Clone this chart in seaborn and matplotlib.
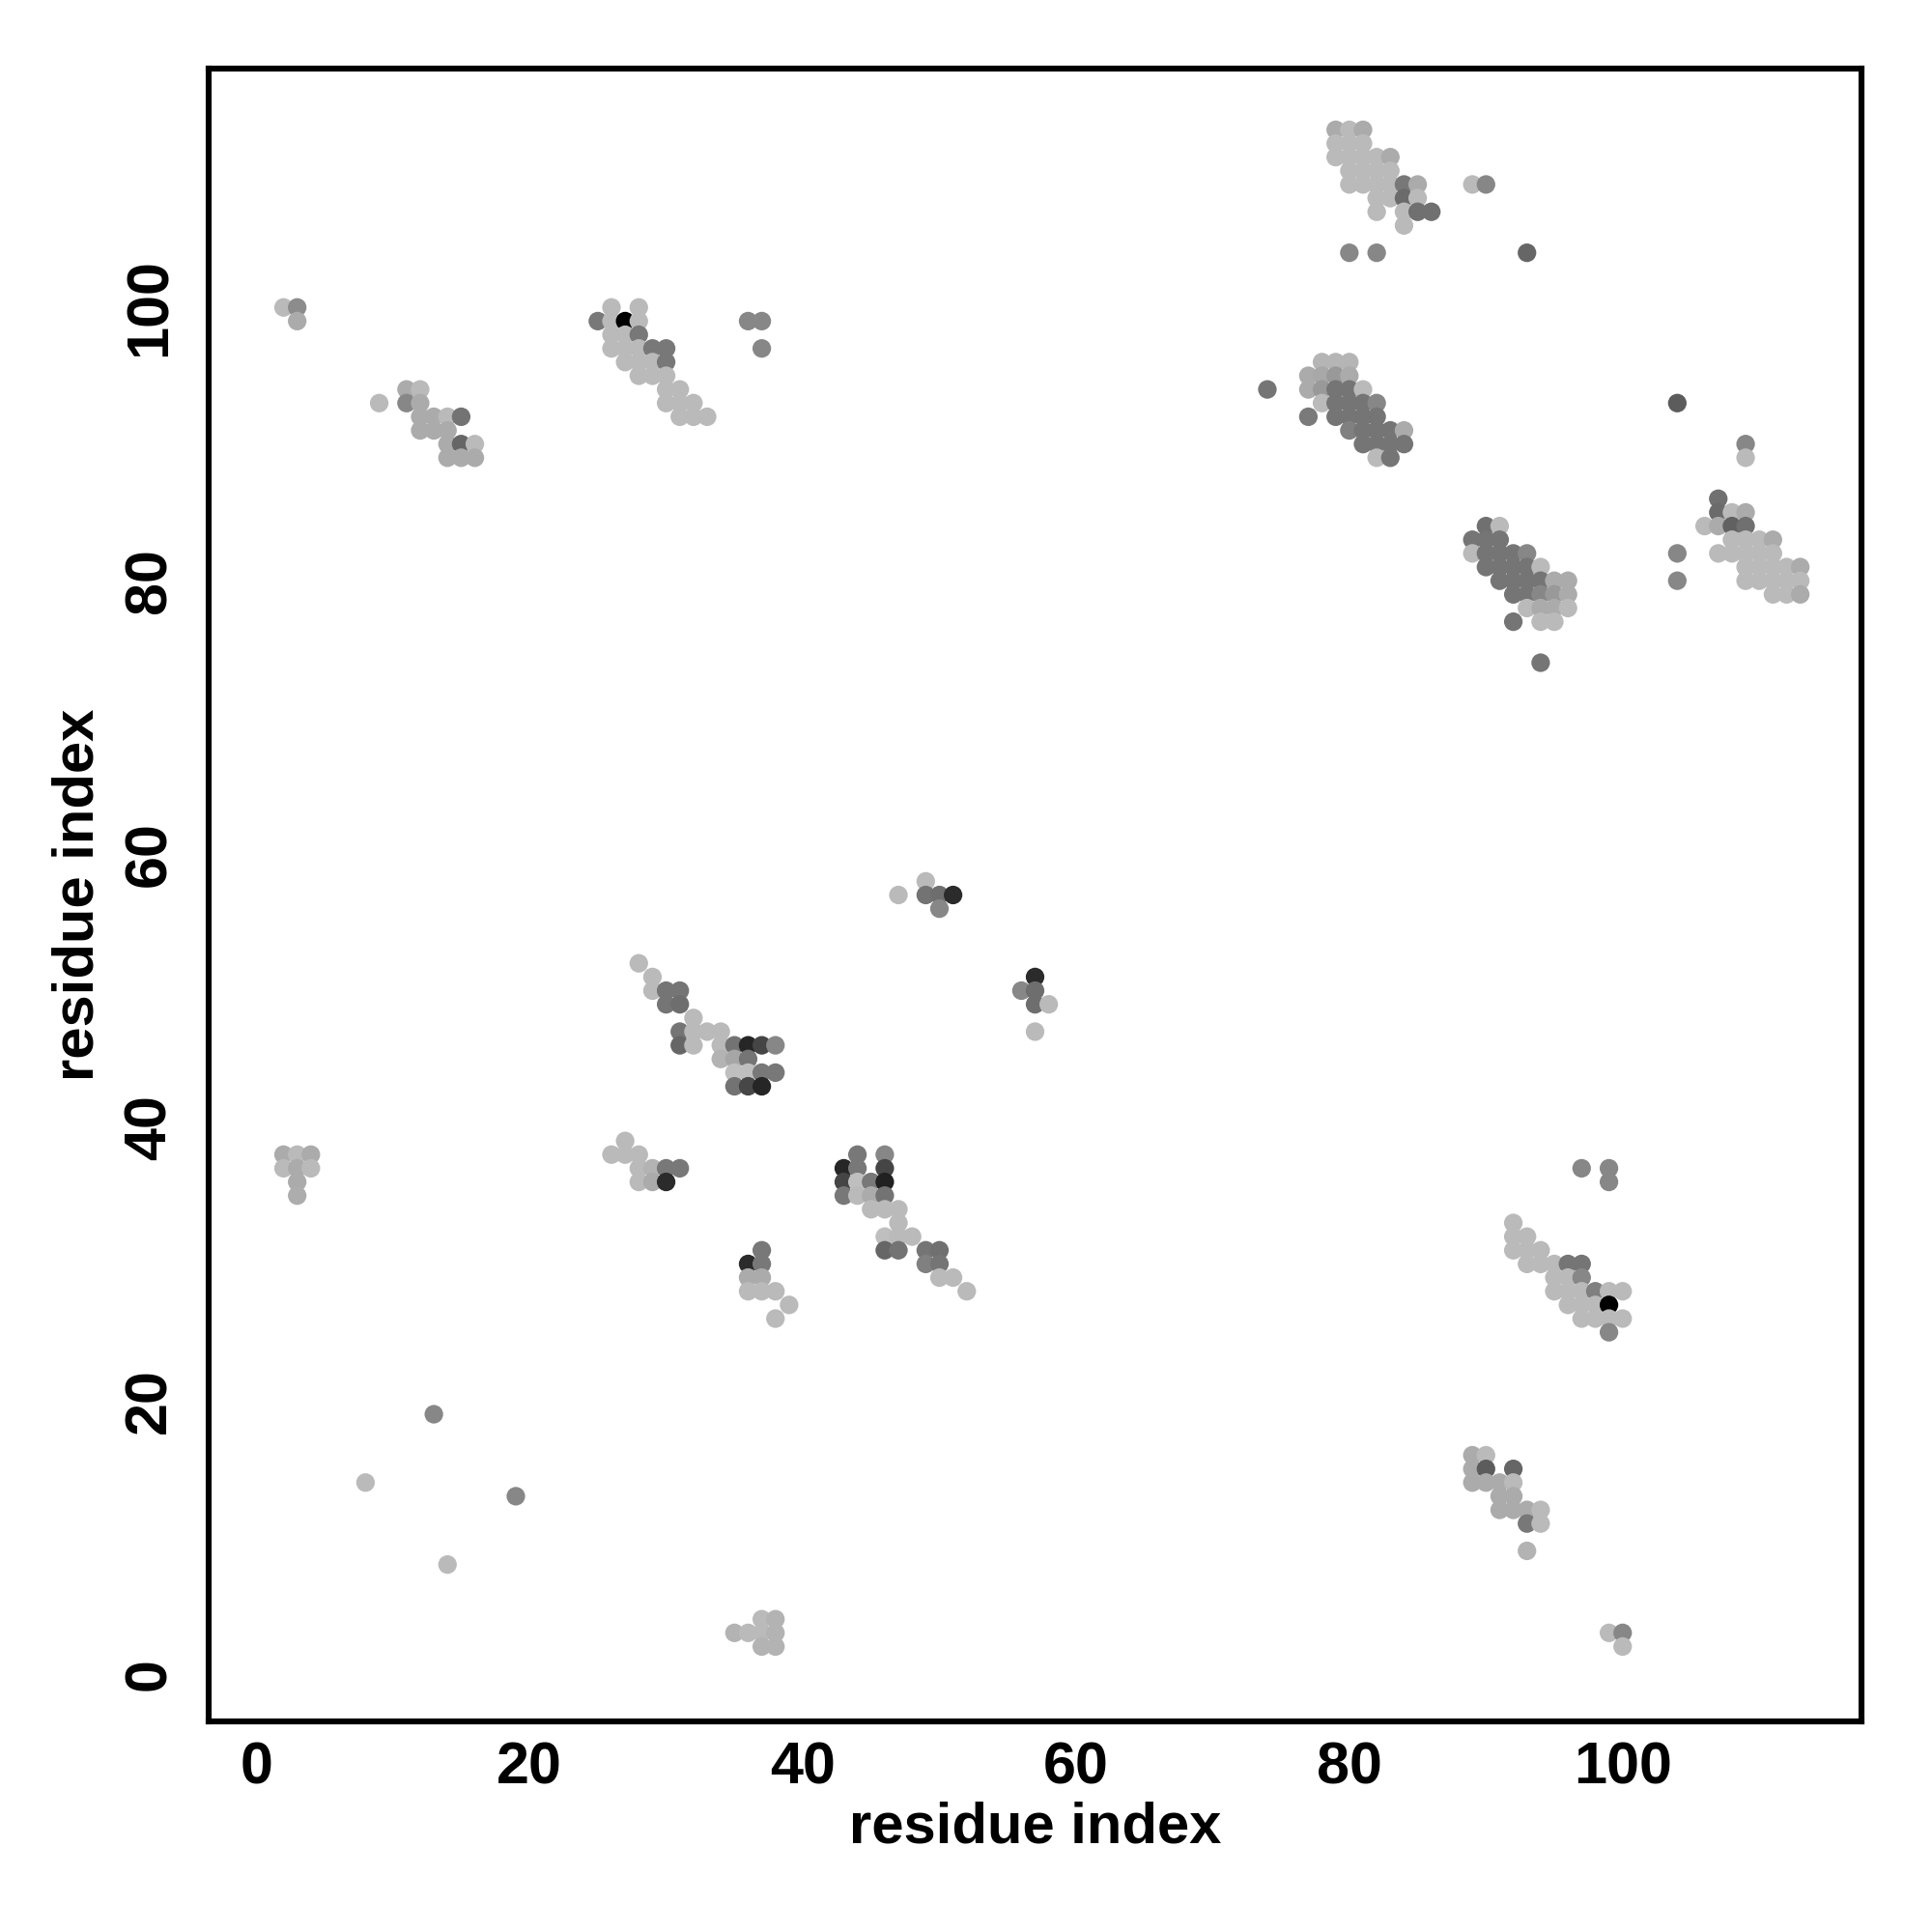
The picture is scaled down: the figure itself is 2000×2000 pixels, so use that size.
"""Residue contact map: contacting residue pairs, shaded by contact strength."""

import pandas as pd
import seaborn as sns
import matplotlib.pyplot as plt

# (residue i, residue j, gray shade 0=black .. 1=white)
top_right = [
    (79, 113, .67), (80, 113, .73), (81, 113, .67),
    (79, 112, .73), (80, 112, .73), (81, 112, .73),
    (79, 111, .73), (80, 111, .73), (81, 111, .73), (82, 111, .73), (83, 111, .67),
    (80, 110, .73), (81, 110, .73), (82, 110, .73), (83, 110, .73),
    (80, 109, .73), (81, 109, .73), (82, 109, .73), (83, 109, .73), (84, 109, .47), (85, 109, .67),
    (82, 108, .73), (83, 108, .73), (84, 108, .42), (85, 108, .73),
    (82, 107, .73), (84, 107, .73), (85, 107, .44), (86, 107, .44),
    (84, 106, .73),
    (80, 104, .53), (82, 104, .53),
    (89, 109, .73), (90, 109, .53),
    (93, 104, .40),
]
helix_90s = [
    (78, 96, .71), (79, 96, .71), (80, 96, .71),
    (77, 95, .67), (78, 95, .66), (79, 95, .60), (80, 95, .67),
    (74, 94, .46), (77, 94, .67), (78, 94, .60), (79, 94, .46), (80, 94, .46), (81, 94, .73),
    (78, 93, .73), (79, 93, .46), (80, 93, .46), (81, 93, .46), (82, 93, .53),
    (77, 92, .48), (79, 92, .46), (80, 92, .46), (81, 92, .46), (82, 92, .46),
    (80, 91, .50), (81, 91, .46), (82, 91, .46), (83, 91, .46), (84, 91, .67),
    (81, 90, .46), (82, 90, .46), (83, 90, .46), (84, 90, .46),
    (82, 89, .73), (83, 89, .46),
]
helix_80s = [
    (90, 84, .44), (91, 84, .73),
    (89, 83, .46), (90, 83, .46), (91, 83, .46),
    (89, 82, .73), (90, 82, .46), (91, 82, .46), (92, 82, .46), (93, 82, .53),
    (90, 81, .46), (91, 81, .46), (92, 81, .46), (93, 81, .46), (94, 81, .73),
    (91, 80, .46), (92, 80, .46), (93, 80, .46), (94, 80, .46), (95, 80, .67), (96, 80, .67),
    (92, 79, .46), (93, 79, .46), (94, 79, .53), (95, 79, .60), (96, 79, .67),
    (93, 78, .73), (94, 78, .67), (95, 78, .67), (96, 78, .73),
    (92, 77, .46), (94, 77, .73), (95, 77, .73),
    (94, 74, .46),
]
far_right = [
    (104, 93, .36),
    (109, 90, .53), (109, 89, .73),
    (107, 86, .44),
    (107, 85, .42), (108, 85, .73), (109, 85, .67),
    (106, 84, .73), (107, 84, .67), (108, 84, .38), (109, 84, .44),
    (108, 83, .73), (109, 83, .73), (110, 83, .73), (111, 83, .67),
    (104, 82, .53), (107, 82, .73), (108, 82, .73), (109, 82, .73), (110, 82, .73), (111, 82, .73),
    (109, 81, .73), (110, 81, .73), (111, 81, .73), (112, 81, .73), (113, 81, .67),
    (104, 80, .53), (109, 80, .73), (110, 80, .73), (111, 80, .73), (112, 80, .73), (113, 80, .73),
    (111, 79, .73), (112, 79, .73), (113, 79, .67),
]
top_left = [
    (2, 100, .73), (3, 100, .55), (3, 99, .67),
    (11, 94, .67), (12, 94, .73),
    (9, 93, .73), (11, 93, .53), (12, 93, .67),
    (12, 92, .67), (13, 92, .67), (14, 92, .73), (15, 92, .45),
    (12, 91, .67), (13, 91, .67), (14, 91, .67),
    (14, 90, .67), (15, 90, .40), (16, 90, .73),
    (14, 89, .67), (15, 89, .67), (16, 89, .67),
]
strand_20s = [
    (26, 100, .73), (28, 100, .73),
    (25, 99, .47), (26, 99, .73), (27, 99, .0), (28, 99, .73),
    (26, 98, .73), (27, 98, .73), (28, 98, .47),
    (26, 97, .73), (27, 97, .73), (28, 97, .73), (29, 97, .47), (30, 97, .47),
    (27, 96, .73), (28, 96, .73), (29, 96, .73), (30, 96, .47),
    (28, 95, .73), (29, 95, .73), (30, 95, .73),
    (30, 94, .73), (31, 94, .73),
    (30, 93, .73), (31, 93, .73), (32, 93, .73),
    (31, 92, .73), (32, 92, .73), (33, 92, .73),
    (36, 99, .53), (37, 99, .53), (37, 97, .53),
]
middle = [
    (49, 58, .73), (47, 57, .73), (49, 57, .45), (50, 57, .43), (51, 57, .17), (50, 56, .53),
    (57, 51, .17), (56, 50, .53), (57, 50, .43), (57, 49, .43), (58, 49, .73), (57, 47, .73),
]
strand_40s = [
    (28, 52, .73), (29, 51, .73),
    (29, 50, .73), (30, 50, .46), (31, 50, .46),
    (30, 49, .46), (31, 49, .43),
    (32, 48, .73),
    (31, 47, .46), (32, 47, .73), (33, 47, .73), (34, 47, .73),
    (31, 46, .40), (32, 46, .73), (34, 46, .73), (35, 46, .45), (36, 46, .15), (37, 46, .27), (38, 46, .53),
    (34, 45, .70), (35, 45, .65), (36, 45, .46),
    (35, 44, .75), (36, 44, .75), (37, 44, .47), (38, 44, .47),
    (35, 43, .45), (36, 43, .28), (37, 43, .15),
]
row_37 = [
    (2, 38, .67), (3, 38, .73), (4, 38, .67),
    (2, 37, .73), (3, 37, .67), (4, 37, .73),
    (3, 36, .67), (3, 35, .68),
    (27, 39, .73), (26, 38, .73), (27, 38, .73), (28, 38, .73),
    (28, 37, .73), (29, 37, .70), (30, 37, .47), (31, 37, .47),
    (28, 36, .73), (29, 36, .67), (30, 36, .17),
]
strand_30s = [
    (44, 38, .47), (46, 38, .53),
    (43, 37, .15), (44, 37, .47), (46, 37, .27),
    (43, 36, .27), (44, 36, .75), (45, 36, .47), (46, 36, .13),
    (43, 35, .47), (44, 35, .73), (45, 35, .67), (46, 35, .45),
    (45, 34, .73), (46, 34, .73), (47, 34, .73),
    (47, 33, .73),
    (46, 32, .75), (47, 32, .73), (48, 32, .73),
    (46, 31, .40), (47, 31, .45), (49, 31, .46), (50, 31, .44),
    (49, 30, .50), (50, 30, .46),
    (50, 29, .73), (51, 29, .73),
    (52, 28, .73),
    (37, 31, .47), (36, 30, .17), (37, 30, .47),
    (36, 29, .67), (37, 29, .67),
    (36, 28, .73), (37, 28, .73), (38, 28, .73),
    (39, 27, .73), (38, 26, .73),
]
lower_right = [
    (97, 37, .53), (99, 37, .53), (99, 36, .53),
    (92, 33, .73), (92, 32, .73), (93, 32, .73),
    (92, 31, .73), (93, 31, .73), (94, 31, .73),
    (93, 30, .73), (94, 30, .73), (95, 30, .73), (96, 30, .46), (97, 30, .46),
    (95, 29, .73), (96, 29, .73), (97, 29, .53),
    (95, 28, .73), (96, 28, .73), (97, 28, .73), (98, 28, .50), (99, 28, .73), (100, 28, .73),
    (96, 27, .73), (97, 27, .73), (98, 27, .73), (99, 27, .0),
    (97, 26, .73), (98, 26, .73), (99, 26, .73), (100, 26, .73),
    (99, 25, .53),
    (89, 16, .67), (90, 16, .73),
    (89, 15, .67), (90, 15, .36), (92, 15, .40),
    (89, 14, .67), (90, 14, .67), (91, 14, .67), (92, 14, .73),
    (91, 13, .67), (92, 13, .67),
    (91, 12, .67), (92, 12, .67), (93, 12, .67), (94, 12, .73),
    (93, 11, .47), (94, 11, .73),
    (93, 9, .70),
]
sparse = [
    (13, 19, .53), (8, 14, .73), (19, 13, .53), (14, 8, .73),
    (35, 3, .70), (36, 3, .73), (37, 3, .73), (38, 3, .70),
    (37, 4, .73), (38, 4, .70), (37, 2, .70), (38, 2, .70),
    (99, 3, .73), (100, 3, .53), (100, 2, .73),
]

clusters = [top_right, helix_90s, helix_80s, far_right, top_left, strand_20s,
            middle, strand_40s, row_37, strand_30s, lower_right, sparse]
contacts = pd.DataFrame([p for c in clusters for p in c], columns=["i", "j", "shade"])

sns.set_style("white")
plt.rcParams["font.family"] = ["Liberation Sans", "DejaVu Sans"]
plt.rcParams["font.weight"] = "bold"

fig = plt.figure(figsize=(10, 10), dpi=200)
ax = fig.add_axes([0.108, 0.109, 0.8555, 0.8555])

palette = {v: str(v) for v in contacts["shade"].unique()}
sns.scatterplot(data=contacts, x="i", y="j", hue="shade", palette=palette,
                s=48, linewidth=0, legend=False, ax=ax)

ax.set_xlim(-3.48, 117.48)
ax.set_ylim(-3.48, 117.48)
ticks = [0, 20, 40, 60, 80, 100]
ax.set_xticks(ticks)
ax.set_yticks(ticks)
for sp in ax.spines.values():
    sp.set_visible(True)
    sp.set_color("black")
    sp.set_linewidth(2.2)
ax.tick_params(direction="out", length=5.4, width=1.8, color="black",
               labelsize=22, labelcolor="black")
ax.tick_params(axis="x", pad=2)
ax.tick_params(axis="y", pad=6, labelrotation=90)
for lab in ax.get_xticklabels() + ax.get_yticklabels():
    lab.set_fontweight("bold")
for lab in ax.get_yticklabels():
    lab.set_va("center")

ax.set_xlabel("residue index", fontsize=21.5, fontweight="bold", color="black", va="center")
ax.set_ylabel("residue index", fontsize=21.5, fontweight="bold", color="black", va="center")
ax.xaxis.set_label_coords(0.5, -0.064)
ax.yaxis.set_label_coords(-0.079, 0.5)

fig.savefig("out.png", dpi=200, facecolor="white")
